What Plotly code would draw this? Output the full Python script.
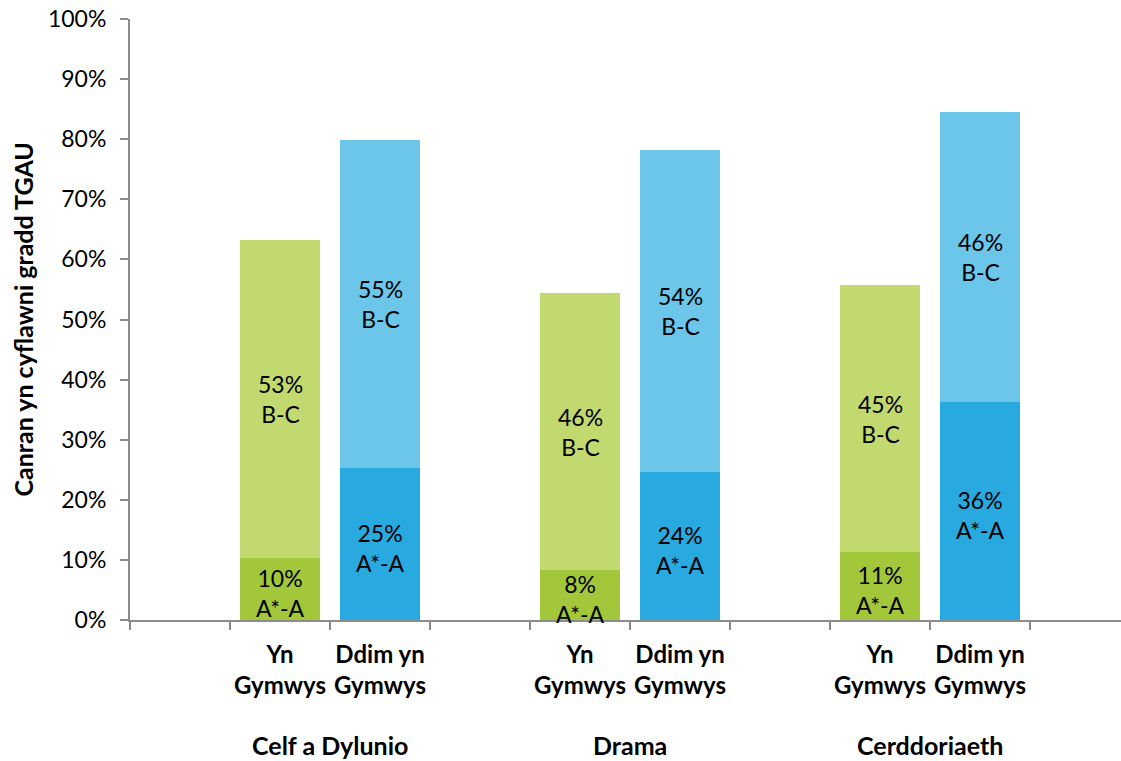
import plotly.graph_objects as go

# slots along the x axis (empty strings = spacer slots)
slots = ["", "Yn<br>Gymwys", "Ddim yn<br>Gymwys",
         "", "Yn<br>Gymwys", "Ddim yn<br>Gymwys",
         "", "Yn<br>Gymwys", "Ddim yn<br>Gymwys", ""]
groups = ["Celf a Dylunio", "Drama", "Cerddoriaeth"]

# values per bar (in slot order, bars only)
a_star_a = [10.3, 25.3, 8.3, 24.6, 11.3, 36.3]
b_c = [52.9, 54.6, 46.1, 53.6, 44.4, 48.2]
label_a = ["10%", "25%", "8%", "24%", "11%", "36%"]
label_bc = ["53%", "55%", "46%", "54%", "45%", "46%"]
is_yn = [True, False, True, False, True, False]

col_a = {True: "#A3C73A", False: "#28A9E0"}
col_bc = {True: "#C2D970", False: "#6BC6EA"}

xpos = [i for i, s in enumerate(slots) if s]
ticktext = [slots[i] for i in xpos]

FONT = "Lato"
fig = go.Figure()
fig.add_trace(go.Bar(x=xpos, y=a_star_a, marker_color=[col_a[v] for v in is_yn],
                     width=0.8, marker_line_width=0, showlegend=False, hoverinfo="skip"))
fig.add_trace(go.Bar(x=xpos, y=b_c, marker_color=[col_bc[v] for v in is_yn],
                     width=0.8, marker_line_width=0, showlegend=False, hoverinfo="skip"))

for x, a, b, la, lb in zip(xpos, a_star_a, b_c, label_a, label_bc):
    fig.add_annotation(x=x, y=a / 2, text=la + "<br>A*-A", showarrow=False,
                       font=dict(family=FONT, size=23, color="black"), yshift=-4)
    fig.add_annotation(x=x, y=a + b / 2, text=lb + "<br>B-C", showarrow=False,
                       font=dict(family=FONT, size=23, color="black"))

for g, k in zip(groups, range(3)):
    xc = (xpos[2 * k] + xpos[2 * k + 1]) / 2
    fig.add_annotation(x=xc, xref="x", y=-0.208, yref="paper", yanchor="middle",
                       text="<b>%s</b>" % g,
                       showarrow=False, font=dict(family=FONT, size=25, color="black"))

fig.add_annotation(x=-0.108, xref="paper", y=0.5, yref="paper", textangle=-90,
                   xanchor="center", yanchor="middle", showarrow=False,
                   text="<b>Canran yn cyflawni gradd TGAU</b>",
                   font=dict(family=FONT, size=25, color="black"))

axis_col = "#8C8C8C"
fig.update_layout(
    barmode="stack",
    width=1121, height=761,
    margin=dict(l=130, r=0, t=19, b=141),
    plot_bgcolor="white", paper_bgcolor="white",
    font=dict(family=FONT, color="black"),
    xaxis=dict(range=[-0.5, 9.41], tickvals=xpos, ticktext=["<b>%s</b>" % t for t in ticktext],
               ticks="", showline=True, linecolor=axis_col, linewidth=2, showgrid=False,
               zeroline=False, tickfont=dict(family=FONT, size=24, color="black"),
               ticklabelstandoff=12,
               minor=dict(tick0=-0.5, dtick=1, ticks="outside", ticklen=8, tickwidth=2,
                          tickcolor=axis_col, showgrid=False)),
    yaxis=dict(range=[0, 100], dtick=10, ticksuffix="%", ticks="outside", ticklen=8,
               tickwidth=2, tickcolor=axis_col, showline=True, linecolor=axis_col, linewidth=2,
               showgrid=False, zeroline=False, ticklabelstandoff=9,
               tickfont=dict(family=FONT, size=23, color="black")),
)
fig.write_html("out.html", config={"displayModeBar": False},
               post_script="document.body.style.margin='0';")
